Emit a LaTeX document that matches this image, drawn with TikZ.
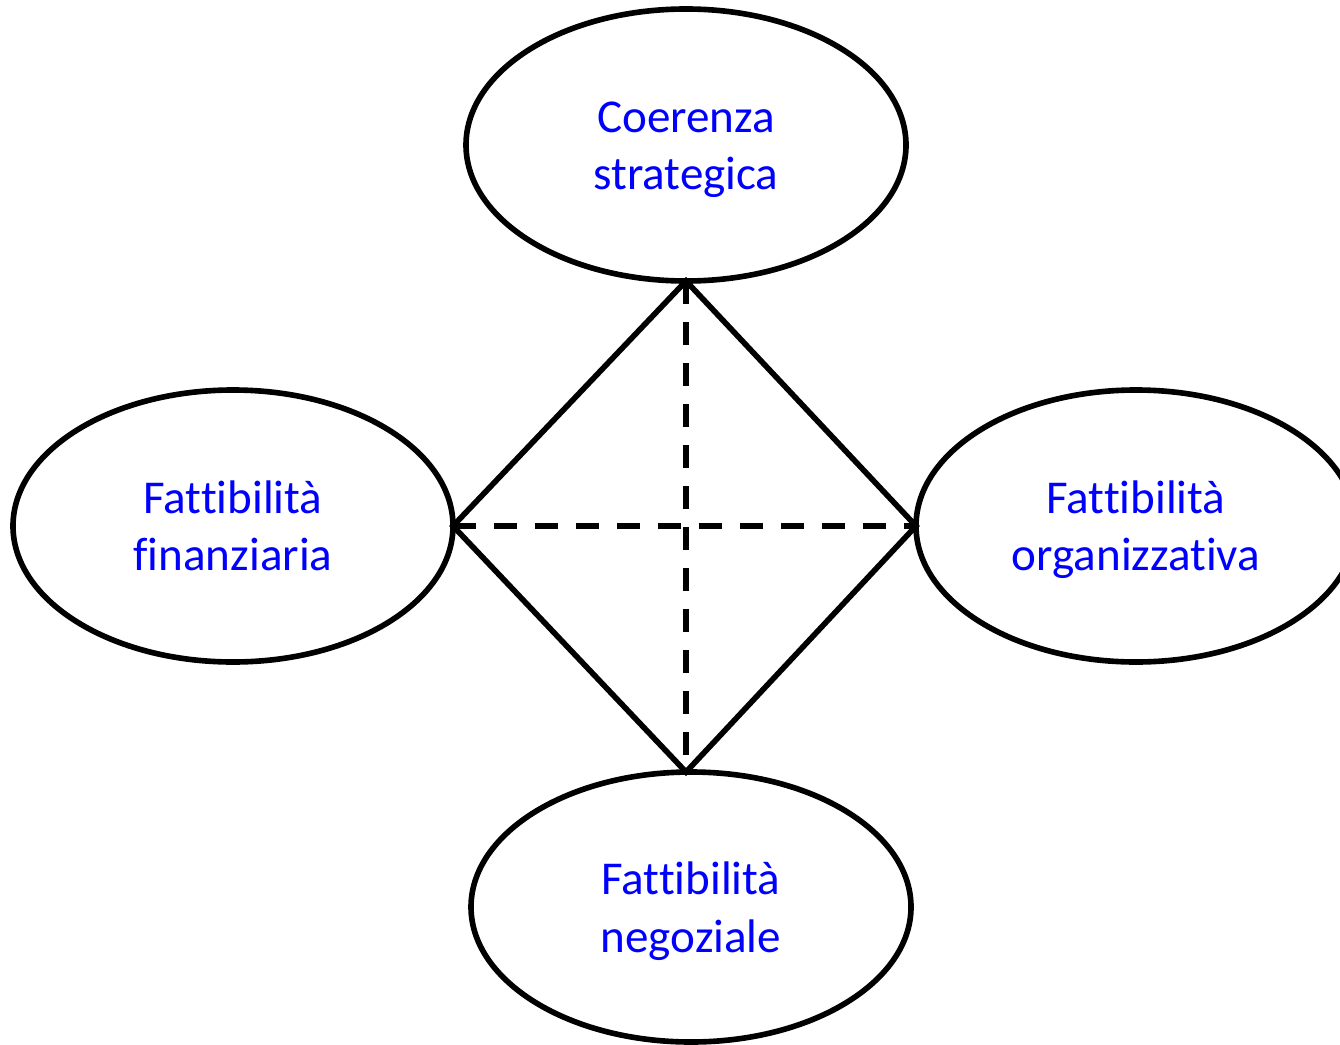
\documentclass[tikz,border=0pt]{standalone}
\usepackage{fontspec}
\setmainfont{Carlito}[Ligatures={NoCommon,NoRequired,NoContextual}]
\usetikzlibrary{shapes.geometric}
\begin{document}
\begin{tikzpicture}[
	area/.style={draw, ellipse, line width=1.6pt, inner sep=0pt, outer sep=0pt, minimum width=4.4cm, minimum height=2.72cm, align=center, text=blue, text height=30pt, text depth=4.4pt, font=\fontsize{13.4}{16.4}\selectfont},
	edge/.style={line width=1.6pt},
	axis/.style={line width=1.6pt, dash pattern=on 0.23cm off 0.18cm}
	]
	\useasboundingbox (0,0) rectangle (13.4,10.44);
	\node[area] (coer) at (6.86,8.99) {Coerenza\\strategica};
	\node[area] (fin) at (2.33,5.18) {Fattibilità\\finanziaria};
	\node[area] (org) at (11.36,5.18) {Fattibilità\\organizzativa};
	\node[area, minimum height=2.7cm] (neg) at (6.91,1.37) {Fattibilità\\negoziale};
	\coordinate (negtop) at (coer.south |- neg.north);
	
	\draw[edge] (coer.south) -- (fin.east) -- (negtop) -- (org.west) -- cycle;
	
	\draw[axis] (coer.south) -- (negtop);
	\draw[axis] (fin.east) -- (org.west);
\end{tikzpicture}
\end{document}
